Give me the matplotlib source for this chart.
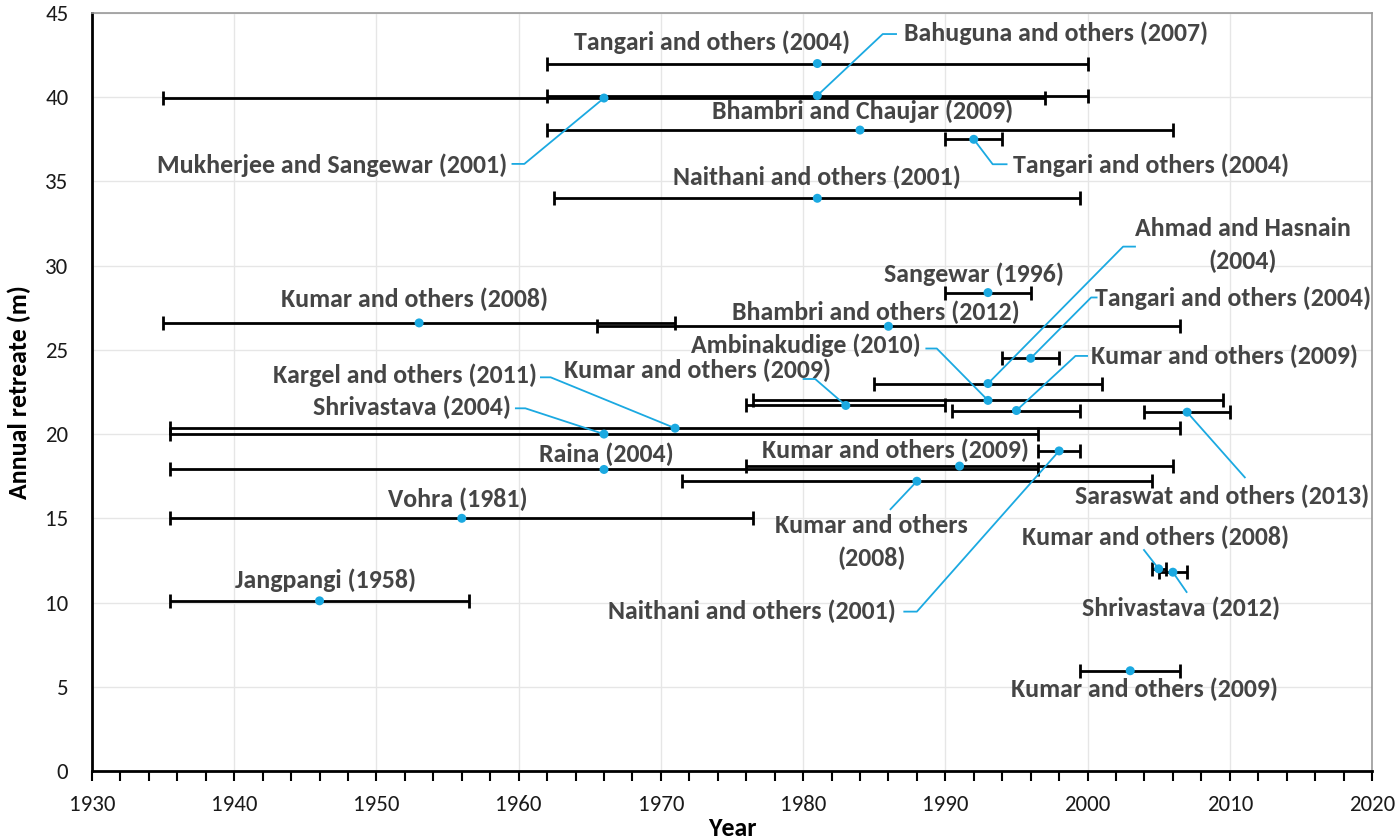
import matplotlib
matplotlib.use("Agg")
import matplotlib.pyplot as plt
from matplotlib import font_manager
from matplotlib.ticker import MultipleLocator

# ---------------- data ----------------
studies = [
    "Tangari and others (2004)", "Bahuguna and others (2007)", "Mukherjee and Sangewar (2001)",
    "Bhambri and Chaujar (2009)", "Tangari and others (2004)", "Naithani and others (2001)",
    "Sangewar (1996)", "Kumar and others (2008)", "Bhambri and others (2012)",
    "Tangari and others (2004)", "Ahmad and Hasnain\n(2004)", "Ambinakudige (2010)",
    "Kumar and others (2009)", "Kumar and others (2009)", "Saraswat and others (2013)",
    "Kargel and others (2011)", "Shrivastava (2004)", "Naithani and others (2001)",
    "Kumar and others (2009)", "Raina (2004)", "Kumar and others\n(2008)",
    "Vohra (1981)", "Jangpangi (1958)", "Kumar and others (2008)",
    "Shrivastava (2012)", "Kumar and others (2009)",
]
mid_year = [1981, 1981, 1966, 1984, 1992, 1981, 1993, 1953, 1986, 1996, 1993, 1993,
            1983, 1995, 2007, 1971, 1966, 1998, 1991, 1966, 1988, 1956, 1946, 2005,
            2006, 2003]
retreat = [42.0, 40.1, 39.95, 38.05, 37.5, 34.0, 28.4, 26.6, 26.4, 24.5, 23.0, 22.0,
           21.7, 21.4, 21.3, 20.35, 20.0, 19.0, 18.1, 17.9, 17.2, 15.0, 10.1, 12.0,
           11.8, 5.95]
start_year = [1962, 1962, 1935, 1962, 1990, 1962.5, 1990, 1935, 1965.5, 1994, 1985, 1976.5,
              1976, 1990.5, 2004, 1935.5, 1935.5, 1996.5, 1976, 1935.5, 1971.5, 1935.5,
              1935.5, 2004.5, 2005, 1999.5]
end_year = [2000, 2000, 1997, 2006, 1994, 1999.5, 1996, 1971, 2006.5, 1998, 2001, 2009.5,
            1990, 1999.5, 2010, 2006.5, 1996.5, 1999.5, 2006, 1996.5, 2004.5, 1976.5,
            1956.5, 2005.5, 2007, 2006.5]

x_ticks = [1930, 1940, 1950, 1960, 1970, 1980, 1990, 2000, 2010, 2020]
y_ticks = [0, 5, 10, 15, 20, 25, 30, 35, 40, 45]

# ---------------- layout of labels (text centre, callout path) ----------------
label_pos = [
    (1973.6, 43.28), (1997.8, 43.8), (1946.9, 35.98), (1984.2, 39.18), (2004.5, 35.98),
    (1981.0, 35.26), (1992.05, 29.5), (1952.7, 28.02), (1985.15, 27.23), (2010.2, 28.06),
    (2010.9, 31.23), (1980.2, 25.29), (1972.57, 23.81), (2009.6, 24.64), (2009.45, 16.34),
    (1952.0, 23.47), (1952.5, 21.59), (1976.4, 9.5), (1986.5, 19.02), (1966.2, 18.82),
    (1984.8, 13.58), (1955.7, 16.13), (1946.4, 11.34), (2004.8, 13.85), (2006.6, 9.66),
    (2004.0, 4.85),
]
callouts = {
    1: [(1985.6, 43.75), (1986.6, 43.75)],
    2: [(1960.4, 36.04), (1959.5, 36.04)],
    4: [(1993.33, 36.02), (1994.37, 36.02)],
    9: [(2000.25, 28.11), (2000.7, 28.11)],
    10: [(2002.5, 31.13), (2003.4, 31.13)],
    11: [(1989.4, 25.08), (1988.6, 25.08)],
    12: [(1980.85, 23.27), (1979.97, 23.27)],
    13: [(1999.15, 24.64), (2000.03, 24.64)],
    14: [(2011.1, 17.39)],
    15: [(1962.25, 23.37), (1961.5, 23.37)],
    16: [(1960.47, 21.53), (1959.74, 21.53)],
    17: [(1988.0, 9.46), (1987.05, 9.46)],
    20: [(1986.1, 15.5)],
    23: [(2003.93, 13.16)],
    24: [(2007.0, 10.58)],
}

# ---------------- fonts ----------------
avail = {f.name for f in font_manager.fontManager.ttflist}


def pick(cands):
    for c in cands:
        if c in avail:
            return c
    return "DejaVu Sans"


label_font = pick(["Carlito", "Open Sans Condensed", "IBM Plex Sans Condensed", "Liberation Sans Narrow"])
tick_font = pick(["Carlito", "Open Sans", "Noto Sans"])
calibri_like = label_font == "Carlito"
LABEL_SIZE = 18.6 if calibri_like else 15
TICK_SIZE = 16.5 if tick_font == "Carlito" else 14

BLUE = "#1ba9e1"
TEXT = "#454545"

fig = plt.figure(figsize=(14, 8.38), dpi=100)
ax = fig.add_axes([0.0657, 0.08, 0.9143, 0.9045])

for i in range(len(studies)):
    ax.errorbar([mid_year[i]], [retreat[i]],
                xerr=[[mid_year[i] - start_year[i]], [end_year[i] - mid_year[i]]],
                fmt="none", ecolor="black", elinewidth=2, capsize=5, capthick=2, zorder=3)

for i, pts in callouts.items():
    xs = [mid_year[i]] + [p[0] for p in pts]
    ys = [retreat[i]] + [p[1] for p in pts]
    ax.plot(xs, ys, color=BLUE, lw=1.3, zorder=4, solid_capstyle="butt")

ax.scatter(mid_year, retreat, s=42, color=BLUE, zorder=5, edgecolors="none")

for i, (lx, ly) in enumerate(label_pos):
    ax.text(lx, ly, studies[i], ha="center", va="center", fontsize=LABEL_SIZE,
            fontweight="bold", family=[label_font, "DejaVu Sans"], color=TEXT,
            linespacing=1.5, zorder=6)

ax.set_xlim(1930, 2020)
ax.set_ylim(0, 45)
ax.set_xticks(x_ticks)
ax.set_yticks(y_ticks)
ax.xaxis.set_minor_locator(MultipleLocator(2))
ax.grid(True, which="major", color="#e6e6e6", lw=1, zorder=0)
ax.set_axisbelow(True)

ax.tick_params(axis="x", which="both", direction="out", length=7, width=1.5,
               color="black", labelsize=TICK_SIZE, pad=10)
ax.tick_params(axis="y", which="both", length=0, labelsize=TICK_SIZE, pad=17)
for lab in ax.get_xticklabels() + ax.get_yticklabels():
    lab.set_family([tick_font, "DejaVu Sans"])
    lab.set_color("#1a1a1a")

for s in ("left", "bottom"):
    ax.spines[s].set_color("black")
    ax.spines[s].set_linewidth(2)
for s in ("top", "right"):
    ax.spines[s].set_color("#999999")
    ax.spines[s].set_linewidth(1.2)

ax.set_xlabel("Year", fontsize=LABEL_SIZE, fontweight="bold",
              family=[label_font, "DejaVu Sans"], labelpad=2, color="black")
ax.set_ylabel("Annual retreate (m)", fontsize=LABEL_SIZE, fontweight="bold",
              family=[label_font, "DejaVu Sans"], labelpad=10, color="black")

fig.savefig("out.png", dpi=100)
